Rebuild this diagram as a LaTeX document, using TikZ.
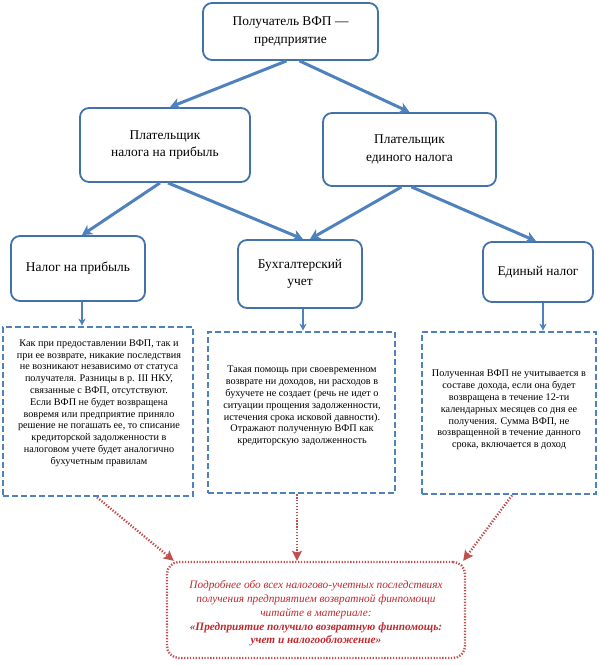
\documentclass[tikz,border=0pt]{standalone}
\usepackage{fontspec}
\setmainfont{Liberation Serif}
\usetikzlibrary{arrows.meta}
\definecolor{bl}{HTML}{4F81BD}
\definecolor{bldark}{HTML}{4372AA}
\definecolor{rd}{HTML}{C0504D}
\definecolor{rdtext}{HTML}{C0282D}
\tikzset{
  rbox/.style={draw=bldark, line width=1.8pt, rounded corners=9pt, fill=white, align=center,
    font=\fontsize{13.4}{17.5}\selectfont, inner sep=0pt},
  dbox/.style={draw=bl, line width=2.6pt, dash pattern=on 6pt off 3pt, fill=white, inner sep=0pt},
  dtext/.style={align=center, font=\fontsize{10.2}{11.8}\selectfont, inner sep=0pt},
  redbox/.style={draw=rd, line width=2.4pt, dash pattern=on 1.3pt off 1.6pt, rounded corners=12pt,
    inner sep=0pt},
  redtext/.style={align=center, text=rdtext, font=\fontsize{11.3}{13.8}\selectfont\itshape, inner sep=0pt},
  bigarrow/.style={draw=bl, line width=3pt, -{Stealth[length=10pt,width=11pt,inset=3pt]}},
  smallarrow/.style={draw=bl, line width=1.6pt, -{Stealth[length=7pt,width=7pt,inset=2pt]}},
  redarrow/.style={draw=rd, line width=2.4pt, dash pattern=on 1.3pt off 1.6pt,
    -{Stealth[length=10pt,width=10pt,inset=2pt]}},
}
\begin{document}
\begin{tikzpicture}[x=1pt,y=-1pt]
\useasboundingbox (0,0) rectangle (600,665);
% rounded boxes
\node[rbox, minimum width=175pt, minimum height=57pt] (top) at (290.5,31.5)
  {Получатель ВФП —\\предприятие};
\node[rbox, minimum width=170pt, minimum height=74pt] (p1) at (165,145)
  {Плательщик\\налога на прибыль};
\node[rbox, minimum width=173pt, minimum height=73pt] (p2) at (409.5,149.5)
  {Плательщик\\единого налога};
\node[rbox, minimum width=134pt, minimum height=65pt] (n1) at (78,268.5)
  {Налог на прибыль};
\node[rbox, minimum width=124pt, minimum height=68pt] (bu) at (300,274)
  {Бухгалтерский\\учет};
\node[rbox, minimum width=110pt, minimum height=60pt] (en) at (538,272)
  {Единый налог};
% dashed boxes
\node[dbox, minimum width=190pt, minimum height=169pt] (d1) at (98,411.5) {};
\node[dbox, minimum width=187pt, minimum height=161pt] (d2) at (301.5,412.5) {};
\node[dbox, minimum width=174pt, minimum height=162pt] (d3) at (509,413) {};
\node[dtext] (t1) at (99,403)
  {Как при предоставлении ВФП, так и\\при ее возврате, никакие последствия\\не возникают независимо от статуса\\получателя. Разницы в р. III НКУ,\\связанные с ВФП, отсутствуют.\\Если ВФП не будет возвращена\\вовремя или предприятие приняло\\решение не погашать ее, то списание\\кредиторской задолженности в\\налоговом учете будет аналогично\\бухучетным правилам};
\node[dtext] (t2) at (302,406)
  {Такая помощь при своевременном\\возврате ни доходов, ни расходов в\\бухучете не создает (речь не идет о\\ситуации прощения задолженности,\\истечения срока исковой давности).\\Отражают полученную ВФП как\\кредиторскую задолженность};
\node[dtext] (t3) at (509,410)
  {Полученная ВФП не учитывается в\\составе дохода, если она будет\\возвращена в течение 12-ти\\календарных месяцев со дня ее\\получения. Сумма ВФП, не\\возвращенной в течение данного\\срока, включается в доход};
% red box
\node[redbox, minimum width=298pt, minimum height=96pt] (rb) at (316,610) {};
\node[redtext] (rt) at (316,613.5)
  {Подробнее обо всех налогово-учетных последствиях\\получения предприятием возвратной финпомощи\\читайте в материале:\\\textbf{«Предприятие получило возвратную финпомощь:}\\\textbf{учет и налогообложение»}};
% blue arrows
\draw[bigarrow] ([xshift=-4pt]top.south) -- ([xshift=5pt]p1.north);
\draw[bigarrow] ([xshift=9pt]top.south) -- ([xshift=0pt]p2.north);
\draw[bigarrow] ([xshift=-5pt]p1.south) -- ([xshift=4pt]n1.north);
\draw[bigarrow] ([xshift=3pt]p1.south) -- ([xshift=3pt]bu.north);
\draw[bigarrow] ([xshift=-8pt]p2.south) -- ([xshift=10pt]bu.north);
\draw[bigarrow] ([xshift=2pt]p2.south) -- ([xshift=-2pt]en.north);
\draw[smallarrow] ([xshift=4pt]n1.south) -- ([xshift=-16pt]d1.north);
\draw[smallarrow] ([xshift=3pt]bu.south) -- ([xshift=1.5pt]d2.north);
\draw[smallarrow] ([xshift=5pt]en.south) -- ([xshift=34pt]d3.north);
% red arrows
\draw[redarrow] ([xshift=-1pt]d1.south) -- ([xshift=8pt]rb.north west);
\draw[redarrow] ([xshift=-4.5pt]d2.south) -- ([xshift=-19pt]rb.north);
\draw[redarrow] ([xshift=3pt]d3.south) -- ([xshift=-3pt]rb.north east);
\end{tikzpicture}
\end{document}
